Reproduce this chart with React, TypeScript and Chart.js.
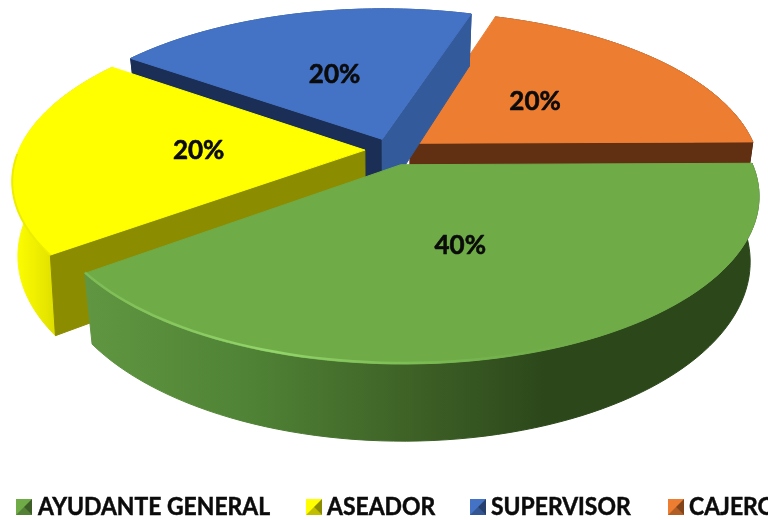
import React, { useEffect, useRef } from "react";
import { Chart, registerables } from "chart.js";

Chart.register(...registerables);

const categories = ["AYUDANTE GENERAL", "ASEADOR", "SUPERVISOR", "CAJERO"];
const values = [40, 20, 20, 20];
const explode = [24, 18, 18, 18];
const topColors = ["#6FAC48", "#FFFF00", "#4472C4", "#ED7D31"];
const startWallColors = ["#3F6428", "#8C8C00", "#1B2E55", "#613013"];
const endWallColors = ["#3F6428", "#8C8C00", "#335A9A", "#613013"];
const legendMarkerX = [16, 306, 470, 668];
const legendTextX = [38, 327, 491, 689];
const sliceDepth = [62, 72, 62, 62];
const sliceBase = [0.976, 0.985, 0.976, 0.976];

const VIEW = { cx: 390, cy: 150, sx: 346, sy: 157.5, persp: 0.18, labelRadius: 0.48 };

const wallGradient = (ctx: CanvasRenderingContext2D, i: number, base: string) => {
  if (i === 0) {
    const g = ctx.createLinearGradient(85, 0, 760, 0);
    g.addColorStop(0, "#609641");
    g.addColorStop(0.25, "#4F8235");
    g.addColorStop(0.47, "#3F6327");
    g.addColorStop(0.68, "#2C481B");
    g.addColorStop(1, "#2C481B");
    return g;
  }
  if (i === 1) {
    const g = ctx.createLinearGradient(12, 0, 62, 0);
    g.addColorStop(0, "#FFFF00");
    g.addColorStop(0.45, "#F0F000");
    g.addColorStop(1, "#D8D800");
    return g;
  }
  return base;
};

const pie3d = {
  id: "pie3d",
  beforeDatasetsDraw(chart: any) {
    const { ctx } = chart;
    const arcs = chart.getDatasetMeta(0).data;
    const R = arcs[0].outerRadius;
    const project = (el: any, px: number, py: number, low = -1) => {
      const X = (px - el.x) / R;
      const Y = (py - el.y) / R;
      const w = 1 - VIEW.persp * Y;
      const k = low >= 0 ? sliceBase[low] : 1;
      return [
        VIEW.cx + (VIEW.sx * k * X) / w,
        VIEW.cy + (VIEW.sy * Y) / w + (low >= 0 ? sliceDepth[low] / w : 0),
      ];
    };
    const fill = (pts: number[][], color: any) => {
      ctx.beginPath();
      pts.forEach((p, n) => (n ? ctx.lineTo(p[0], p[1]) : ctx.moveTo(p[0], p[1])));
      ctx.closePath();
      ctx.fillStyle = color;
      ctx.fill();
      ctx.lineJoin = "round";
      ctx.lineWidth = 1;
      ctx.strokeStyle = color;
      ctx.stroke();
    };
    // a cut face shows only if "down" on screen points away from the slice's interior
    const faces = (tip: number[], end: number[], inner: number[]) => {
      const ex = end[0] - tip[0];
      const ey = end[1] - tip[1];
      const down = ex;
      const inside = ex * (inner[1] - tip[1]) - ey * (inner[0] - tip[0]);
      return down * inside < 0;
    };
    ctx.save();
    for (let i = arcs.length - 1; i >= 0; i--) {
      const el = arcs[i];
      const mid = (el.startAngle + el.endAngle) / 2;
      const off = el.options.offset;
      const ox = el.x + Math.cos(mid) * off;
      const oy = el.y + Math.sin(mid) * off;
      const edge: number[][] = [];
      const n = 80;
      for (let k = 0; k <= n; k++) {
        const a = el.startAngle + ((el.endAngle - el.startAngle) * k) / n;
        edge.push([ox + Math.cos(a) * R, oy + Math.sin(a) * R]);
      }
      const topEdge = edge.map((p) => project(el, p[0], p[1]));
      const lowEdge = edge.map((p) => project(el, p[0], p[1], i));
      const tip = project(el, ox, oy);
      const lowTip = project(el, ox, oy, i);
      const inner = topEdge[n / 2];
      fill([...topEdge, ...lowEdge.slice().reverse()], wallGradient(ctx, i, endWallColors[i]));
      if (faces(tip, topEdge[0], inner)) fill([tip, topEdge[0], lowEdge[0], lowTip], startWallColors[i]);
      if (faces(tip, topEdge[n], inner)) fill([tip, topEdge[n], lowEdge[n], lowTip], endWallColors[i]);
      fill([tip, ...topEdge], topColors[i]);
      if (i === 0) {
        // bevel highlight along the front rim of the largest slice
        const g = ctx.createLinearGradient(85, 0, 620, 0);
        g.addColorStop(0, "rgba(150,215,110,0.35)");
        g.addColorStop(0.35, "rgba(150,215,110,0.95)");
        g.addColorStop(0.65, "rgba(130,195,90,0.6)");
        g.addColorStop(1, "rgba(110,172,72,0)");
        ctx.beginPath();
        topEdge.forEach((p, k) => (k ? ctx.lineTo(p[0], p[1] - 1) : ctx.moveTo(p[0], p[1] - 1)));
        ctx.strokeStyle = g;
        ctx.lineWidth = 2.5;
        ctx.stroke();
      }
      if (i === 1) {
        ctx.beginPath();
        topEdge.slice(0, 40).forEach((p, k) => (k ? ctx.lineTo(p[0], p[1]) : ctx.moveTo(p[0], p[1])));
        ctx.strokeStyle = "rgba(235,235,0,0.9)";
        ctx.lineWidth = 2;
        ctx.stroke();
      }
    }
    // value labels, read from the data
    const total = values.reduce((a, b) => a + b, 0);
    ctx.fillStyle = "#0B0B0B";
    ctx.strokeStyle = "#0B0B0B";
    ctx.lineWidth = 0.6;
    ctx.font = "bold 26px Lato, 'Open Sans', sans-serif";
    ctx.textAlign = "center";
    ctx.textBaseline = "middle";
    arcs.forEach((el: any, i: number) => {
      const mid = (el.startAngle + el.endAngle) / 2;
      const r = el.options.offset + R * VIEW.labelRadius;
      const [x, y] = project(el, el.x + Math.cos(mid) * r, el.y + Math.sin(mid) * r);
      const text = `${Math.round((values[i] / total) * 100)}%`;
      ctx.fillText(text, x, y);
      ctx.strokeText(text, x, y);
    });
    ctx.restore();
    return false;
  },
  afterDraw(chart: any) {
    const { ctx } = chart;
    ctx.save();
    ctx.font = "bold 24.5px Lato, 'Open Sans', sans-serif";
    ctx.textAlign = "left";
    ctx.textBaseline = "alphabetic";
    categories.forEach((label, i) => {
      const x = legendMarkerX[i];
      const y = 499;
      const s = 16;
      ctx.fillStyle = topColors[i];
      ctx.fillRect(x, y, s, s);
      ctx.fillStyle = "rgba(0,0,0,0.45)";
      ctx.beginPath();
      ctx.moveTo(x + s, y);
      ctx.lineTo(x + s, y + s);
      ctx.lineTo(x + s / 2, y + s / 2);
      ctx.closePath();
      ctx.fill();
      ctx.fillStyle = "rgba(0,0,0,0.25)";
      ctx.beginPath();
      ctx.moveTo(x, y + s);
      ctx.lineTo(x + s, y + s);
      ctx.lineTo(x + s / 2, y + s / 2);
      ctx.closePath();
      ctx.fill();
      const w = ctx.measureText(label).width * 0.935;
      ctx.fillStyle = "#0B0B0B";
      ctx.strokeStyle = "#0B0B0B";
      ctx.lineWidth = 0.5;
      ctx.fillText(label, legendTextX[i], 515, w);
      ctx.strokeText(label, legendTextX[i], 515, w);
    });
    ctx.restore();
  },
};

export default function App() {
  const ref = useRef<HTMLCanvasElement | null>(null);
  useEffect(() => {
    document.body.style.margin = "0";
    const chart = new Chart(ref.current as HTMLCanvasElement, {
      type: "pie",
      data: {
        labels: categories,
        datasets: [{ data: values, backgroundColor: topColors, offset: explode, borderWidth: 0 }],
      },
      options: {
        responsive: false,
        animation: false,
        rotation: 89.5,
        plugins: { legend: { display: false }, tooltip: { enabled: false } },
      },
      plugins: [pie3d],
    } as any);
    return () => chart.destroy();
  }, []);
  return <canvas ref={ref} width={768} height={520} style={{ display: "block" }} />;
}
